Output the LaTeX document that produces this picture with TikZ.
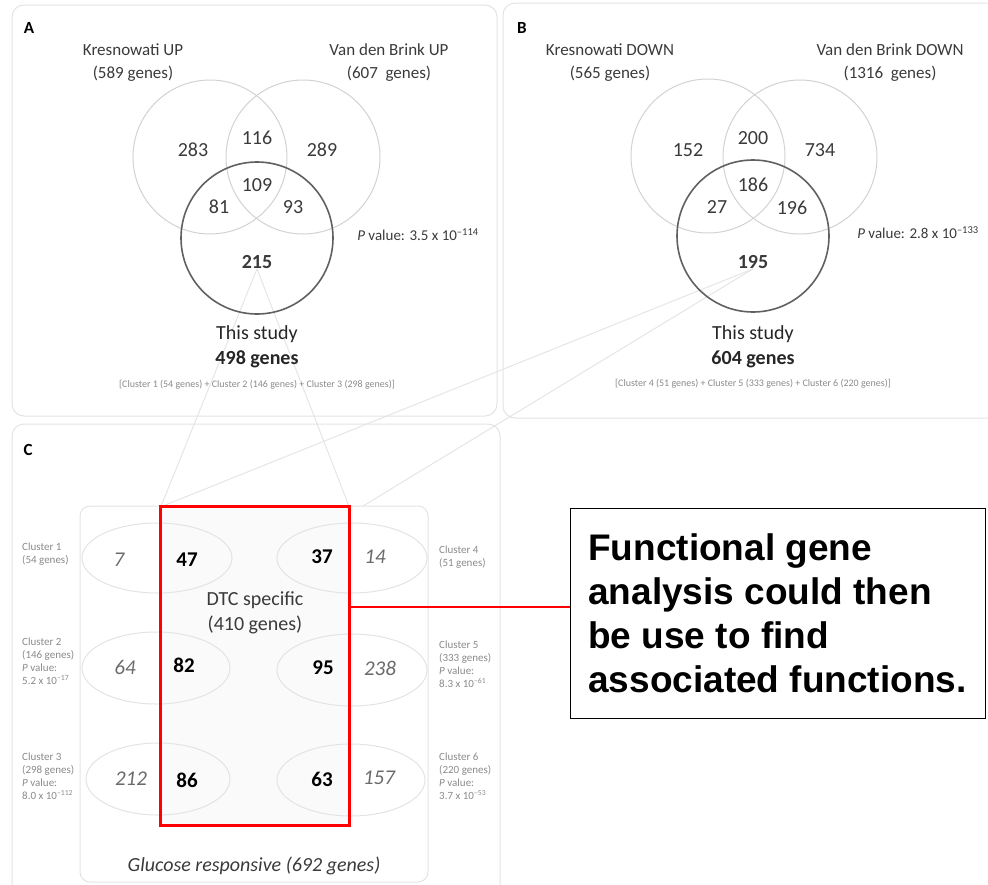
\documentclass[tikz,border=0pt]{standalone}
\usepackage{fontspec}
\setmainfont{Carlito}
\newfontfamily\calloutfont{Liberation Sans}
\usetikzlibrary{backgrounds}
\definecolor{venntext}{HTML}{3A3A3A}
\definecolor{softtext}{HTML}{8A8A8A}
\definecolor{itnum}{HTML}{6A6A6A}
\begin{document}
\begin{tikzpicture}[x=1pt,y=-1pt,
  panel/.style={draw=gray!22,rounded corners=12pt,line width=1pt},
  upcircle/.style={draw=gray!35,line width=1pt},
  studycircle/.style={draw=gray!75!black,line width=1.6pt},
  cluster/.style={draw=gray!22,line width=1pt},
  panellabel/.style={font=\fontsize{17}{20}\selectfont\bfseries,inner sep=0pt},
  num/.style={text=venntext,font=\fontsize{20}{24}\selectfont,inner sep=0pt},
  bnum/.style={num,font=\fontsize{20}{24}\selectfont\bfseries},
  setlabel/.style={text=venntext,font=\fontsize{17}{23}\selectfont,align=center},
  pval/.style={text=venntext,font=\fontsize{15}{18}\selectfont},
  studylabel/.style={text=black!85,font=\fontsize{20}{25}\selectfont,align=center},
  clusterlist/.style={text=softtext,font=\fontsize{10}{12}\selectfont},
  inum/.style={text=itnum,font=\fontsize{21}{24}\selectfont\itshape,inner sep=0pt},
  dnum/.style={text=black,font=\fontsize{21}{24}\selectfont\bfseries,inner sep=0pt},
  clusterinfo/.style={text=softtext,font=\fontsize{11}{13}\selectfont,align=left,anchor=west,inner sep=0pt},
  connector/.style={draw=gray!20,line width=1pt},
  note/.style={draw=black,line width=1pt,minimum width=415pt,minimum height=210pt,
    align=left,font=\calloutfont\fontsize{37}{44}\selectfont\bfseries}]
\useasboundingbox (0,0) rectangle (988,884);

% panel A
\draw[panel] (12,5) rectangle (497,416);
\node[panellabel] (labA) at (29,28) {A};
\draw[upcircle] (210,157) circle[radius=77pt];
\draw[upcircle] (303,157) circle[radius=77pt];
\draw[studycircle] (257,238) circle[radius=76pt];
\node[setlabel] (krUp) at (133,63) {Kresnowati UP\\(589 genes)};
\node[setlabel] (vdbUp) at (389,63) {Van den Brink UP\\(607~ genes)};
\node[num] (a283) at (193,150) {283};
\node[num] (a116) at (257,138) {116};
\node[num] (a289) at (322,150) {289};
\node[num] (a109) at (257,185) {109};
\node[num] (a81) at (219,207) {81};
\node[num] (a93) at (293,207) {93};
\node[bnum] (a215) at (257,262) {215};
\node[pval] (pA) at (418,235) {\textit{P} value: 3.5 x 10\textsuperscript{–114}};
\node[studylabel] (studyA) at (257,347) {This study\\\textbf{498 genes}};
\node[clusterlist] (listA) at (257,385) {[Cluster 1 (54 genes) + Cluster 2 (146 genes) + Cluster 3 (298 genes)]};

% panel B
\draw[panel] (503,3) rectangle (1010,418);
\node[panellabel] (labB) at (522,28) {B};
\draw[upcircle] (708,156) circle[radius=77pt];
\draw[upcircle] (800,157) circle[radius=77pt];
\draw[studycircle] (753,236) circle[radius=76pt];
\node[setlabel] (krDown) at (610,63) {Kresnowati DOWN\\(565 genes)};
\node[setlabel] (vdbDown) at (890,63) {Van den Brink DOWN\\(1316~ genes)};
\node[num] (b152) at (688,150) {152};
\node[num] (b200) at (753,138) {200};
\node[num] (b734) at (820,150) {734};
\node[num] (b186) at (753,185) {186};
\node[num] (b27) at (717,207) {27};
\node[num] (b196) at (792,208) {196};
\node[bnum] (b195) at (753,262) {195};
\node[pval] (pB) at (918,233) {\textit{P} value: 2.8 x 10\textsuperscript{–133}};
\node[studylabel] (studyB) at (753,347) {This study\\\textbf{604 genes}};
\node[clusterlist] (listB) at (753,384) {[Cluster 4 (51 genes) + Cluster 5 (333 genes) + Cluster 6 (220 genes)]};

% panel C
\draw[panel] (12,424) rectangle (500,910);
\node[panellabel] (labC) at (28,450) {C};
\draw[panel,rounded corners=10pt] (80,506) rectangle (428,882);
\node[fill=gray!4,minimum width=188pt,minimum height=318pt,inner sep=0pt] (dtc) at (255,666) {};
\draw[cluster] (157,558) circle[x radius=75pt,y radius=35pt];
\draw[cluster] (156,668) circle[x radius=74pt,y radius=36pt];
\draw[cluster] (158,779) circle[x radius=72pt,y radius=36pt];
\draw[cluster] (352,558) circle[x radius=75pt,y radius=35pt];
\draw[cluster] (352,670) circle[x radius=75pt,y radius=36pt];
\draw[cluster] (351,780) circle[x radius=74pt,y radius=36pt];
\draw[red,line width=3pt] (dtc.south west) rectangle (dtc.north east);
\node[inum] (c7) at (119,560) {7};
\node[inum] (c64) at (125,667) {64};
\node[inum] (c212) at (131,779) {212};
\node[dnum] (c47) at (187,560) {47};
\node[dnum] (c82) at (184,665) {82};
\node[dnum] (c86) at (187,780) {86};
\node[dnum] (c37) at (322,557) {37};
\node[dnum] (c95) at (323,668) {95};
\node[dnum] (c63) at (322,779) {63};
\node[inum] (c14) at (375,557) {14};
\node[inum] (c238) at (380,668) {238};
\node[inum] (c157) at (379,778) {157};
\node[studylabel,text=venntext] (dtcLab) at (255,613) {DTC specific\\(410 genes)};
\node[studylabel,text=venntext,font=\fontsize{20}{25}\selectfont\itshape] (gluLab) at (254,866) {Glucose responsive (692 genes)};
\node[clusterinfo] (cl1) at (22,554) {Cluster 1\\(54 genes)};
\node[clusterinfo] (cl2) at (22,661) {Cluster 2\\(146 genes)\\\textit{P} value:\\5.2 x 10\textsuperscript{–17}};
\node[clusterinfo] (cl3) at (22,776) {Cluster 3\\(298 genes)\\\textit{P} value:\\8.0 x 10\textsuperscript{–112}};
\node[clusterinfo] (cl4) at (439,557) {Cluster 4\\(51 genes)};
\node[clusterinfo] (cl5) at (439,664) {Cluster 5\\(333 genes)\\\textit{P} value:\\8.3 x 10\textsuperscript{–61}};
\node[clusterinfo] (cl6) at (439,776) {Cluster 6\\(220 genes)\\\textit{P} value:\\3.7 x 10\textsuperscript{–53}};
\coordinate (gluTop) at (363,506);

% zoom lines
\begin{scope}[on background layer]
\draw[connector] (a215.south) -- (dtc.north west);
\draw[connector] (a215.south) -- (dtc.north east);
\draw[connector] (b195.south) -- (dtc.north west);
\draw[connector] (b195.south) -- (gluTop);
\end{scope}

% callout
\node[note] (note) at (777.5,613) {Functional gene\\analysis could then\\be use to find\\associated functions.};
\coordinate (noteIn) at ([yshift=6pt]note.west);
\draw[red,line width=1.2pt] (dtc.east |- noteIn) -- (noteIn);
\end{tikzpicture}
\end{document}
